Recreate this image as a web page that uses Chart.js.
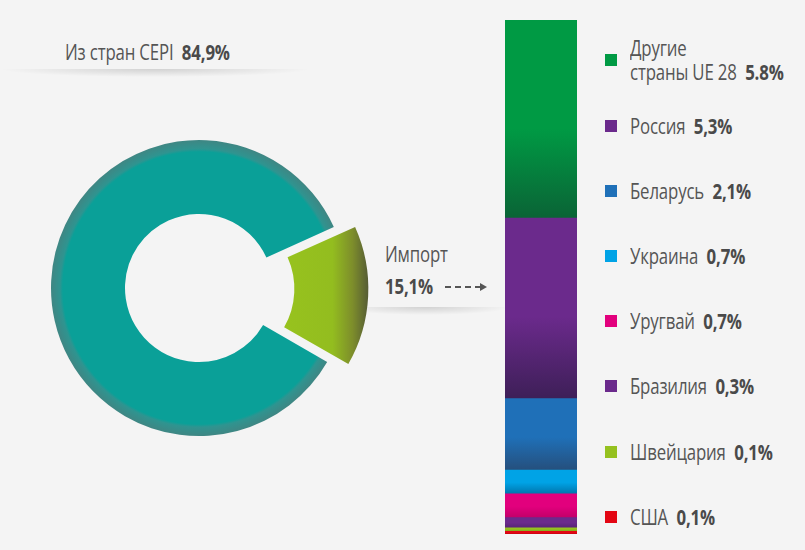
<!DOCTYPE html>
<html>
<head>
<meta charset="utf-8">
<script src="https://cdn.jsdelivr.net/npm/chart.js@4/dist/chart.umd.min.js"></script>
<style>
  html, body { margin: 0; padding: 0; }
  body {
    width: 805px; height: 550px; background: #f4f4f4; position: relative; overflow: hidden;
    font-family: "Open Sans", sans-serif; color: #555;
  }
  .abs { position: absolute; }
  .shadow {
    position: absolute; height: 8px;
    background: radial-gradient(ellipse 50% 100% at 50% 0%, rgba(0,0,0,0.14), rgba(0,0,0,0));
  }
  /* condensed look, the original face is a narrow sans */
  .lbl { font-size: 21px; white-space: nowrap; line-height: 24px; transform: scaleX(0.8); transform-origin: 0 0; letter-spacing: -0.2px; }
  .lbl b { color: #4a4a4a; }
  .sq { position: absolute; width: 12px; height: 12px; }
  #pie { position: absolute; left: 1px; top: 90px; }
  #bar { position: absolute; left: 505px; top: 20px; }
</style>
</head>
<body>
<div class="shadow" style="left:0;top:69px;width:310px"></div>
<div class="abs lbl" id="cepiLbl" style="left:65px;top:40px"></div>

<div class="shadow" style="left:340px;top:307px;width:170px"></div>
<div class="abs lbl" id="impName" style="left:385px;top:242px"></div>
<div class="abs lbl" id="impVal" style="left:385px;top:274px"></div>

<canvas id="pie" width="396" height="396"></canvas>
<canvas id="bar" width="72" height="514"></canvas>
<div id="legend"></div>

<script>
// left doughnut
const mainLabels = ["Из стран CEPI", "Импорт"];
const mainValues = [84.9, 15.1];

// import breakdown, top to bottom
const countries = ["Другие\nстраны UE 28", "Россия", "Беларусь", "Украина", "Уругвай", "Бразилия", "Швейцария", "США"];
const shares = [5.8, 5.3, 2.1, 0.7, 0.7, 0.3, 0.1, 0.1];
const shareText = ["5.8%", "5,3%", "2,1%", "0,7%", "0,7%", "0,3%", "0,1%", "0,1%"];
const topColors = ["#009a44", "#6b2a8c", "#1f70b8", "#00a3e6", "#e2007d", "#6b2a8c", "#95c11f", "#e30613"];
const bottomColors = ["#0a6436", "#3e1f58", "#25507e", "#0078b0", "#c4006a", "#5a2478", "#87ad1d", "#c70511"];

document.getElementById("cepiLbl").innerHTML = mainLabels[0] + "&nbsp; <b>84,9%</b>";
document.getElementById("impName").textContent = mainLabels[1];
document.getElementById("impVal").innerHTML = "<b>15,1%</b>";

// dashed arrow after 15,1%
const arrow = document.createElement("div");
arrow.className = "abs";
arrow.style.cssText = "left:445px;top:286px;width:36px;border-top:2px dashed #555;";
document.body.appendChild(arrow);
const head = document.createElement("div");
head.className = "abs";
head.style.cssText = "left:480px;top:283px;width:0;height:0;border-left:7px solid #555;border-top:4px solid transparent;border-bottom:4px solid transparent;";
document.body.appendChild(head);

// legend
const legend = document.getElementById("legend");
countries.forEach((name, i) => {
  const two = name.indexOf("\n") >= 0;
  const cy = i === 0 ? 60 : 126 + (i - 1) * 65.1;
  const sq = document.createElement("div");
  sq.className = "sq";
  sq.style.left = "605px";
  sq.style.top = (cy - 6) + "px";
  sq.style.background = topColors[i];
  legend.appendChild(sq);
  const t = document.createElement("div");
  t.className = "abs lbl";
  t.style.left = "630px";
  t.style.top = (two ? cy - 24 : cy - 12) + "px";
  t.innerHTML = name.replace("\n", "<br>") + "&nbsp; <b>" + shareText[i] + "</b>";
  legend.appendChild(t);
});

// doughnut
const pieCtx = document.getElementById("pie").getContext("2d");
const tealGrad = pieCtx.createRadialGradient(198, 198, 0, 198, 198, 148);
tealGrad.addColorStop(0, "#0aa098");
tealGrad.addColorStop(0.92, "#0aa098");
tealGrad.addColorStop(0.94, "#2f9490");
tealGrad.addColorStop(1, "#3f8683");
// import arc is drawn translated by offset/4 along its middle angle
const greenGrad = pieCtx.createLinearGradient(269, 0, 350, 0);
greenGrad.addColorStop(0, "#97c21e");
greenGrad.addColorStop(0.55, "#93bd1f");
greenGrad.addColorStop(0.8, "#7d8d2b");
greenGrad.addColorStop(1, "#545a36");

new Chart(pieCtx, {
  type: "doughnut",
  data: {
    labels: mainLabels,
    datasets: [{
      data: mainValues,
      backgroundColor: [tealGrad, greenGrad],
      borderWidth: 0,
      offset: [0, 72],
    }],
  },
  options: {
    responsive: false,
    animation: false,
    rotation: 120,
    radius: 148,
    cutout: "50%",
    layout: { padding: 0 },
    plugins: { legend: { display: false }, tooltip: { enabled: false } },
  },
});

// stacked bar
function segGrad(ctx) {
  const c = ctx.chart;
  const i = ctx.datasetIndex;
  const y = c.scales.y;
  if (!c.chartArea || !y) return topColors[i];
  let start = 0;
  for (let k = 0; k < i; k++) start += shares[k];
  const y0 = y.getPixelForValue(start);
  const y1 = y.getPixelForValue(start + shares[i]);
  if (!isFinite(y0) || !isFinite(y1) || y0 === y1) return topColors[i];
  const g = c.ctx.createLinearGradient(0, y0, 0, y1);
  g.addColorStop(0, topColors[i]);
  g.addColorStop(0.55, topColors[i]);
  g.addColorStop(1, bottomColors[i]);
  return g;
}

new Chart(document.getElementById("bar"), {
  type: "bar",
  data: {
    labels: ["Импорт"],
    datasets: countries.map((name, i) => ({
      label: name,
      data: [shares[i]],
      backgroundColor: segGrad,
      borderWidth: 0,
      barPercentage: 1,
      categoryPercentage: 1,
    })),
  },
  options: {
    responsive: false,
    animation: false,
    layout: { padding: 0 },
    scales: {
      x: { stacked: true, display: false },
      y: { stacked: true, display: false, reverse: true, min: 0, max: 15.1 },
    },
    plugins: { legend: { display: false }, tooltip: { enabled: false } },
  },
});
</script>
</body>
</html>
